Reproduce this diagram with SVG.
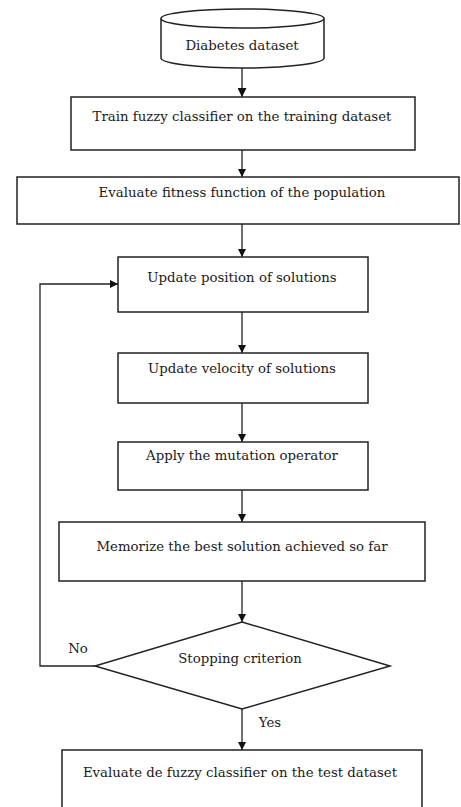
<svg xmlns="http://www.w3.org/2000/svg" width="461" height="807" viewBox="0 0 461 807">
<style>
.box{fill:#fff;stroke:#222;stroke-width:1.5}
.t{font-family:"DejaVu Serif","Liberation Serif",serif;font-size:13.3px;fill:#1a1a1a;text-anchor:middle}
.c{fill:none;stroke:#222;stroke-width:1.3}
</style>
<defs>
<marker id="ah" viewBox="0 0 10 10" refX="10" refY="5" markerWidth="8" markerHeight="8" markerUnits="userSpaceOnUse" orient="auto">
<path d="M0,0 L10,5 L0,10 Z" fill="#111"/>
</marker>
<marker id="ah2" viewBox="0 0 10 10" refX="10" refY="5" markerWidth="9" markerHeight="9" markerUnits="userSpaceOnUse" orient="auto">
<path d="M0,0 L10,5 L0,10 Z" fill="#111"/>
</marker>
</defs>
<rect width="461" height="807" fill="#fff"/>
<g id="connectors">
<line class="c" x1="242" y1="68" x2="242" y2="97" stroke-width="2.2" marker-end="url(#ah2)"/>
<line class="c" x1="242" y1="150" x2="242" y2="177" marker-end="url(#ah)"/>
<line class="c" x1="242" y1="224" x2="242" y2="257" marker-end="url(#ah)"/>
<line class="c" x1="242" y1="312" x2="242" y2="353" marker-end="url(#ah)"/>
<line class="c" x1="242" y1="403" x2="242" y2="442" marker-end="url(#ah)"/>
<line class="c" x1="242" y1="490" x2="242" y2="522" marker-end="url(#ah)"/>
<line class="c" x1="242" y1="581" x2="242" y2="622" marker-end="url(#ah)"/>
<line class="c" x1="242" y1="709" x2="242" y2="750" marker-end="url(#ah)"/>
<polyline class="c" points="95,666 40,666 40,284 118,284" marker-end="url(#ah)"/>
<text class="t" x="78" y="653">No</text>
<text class="t" x="270" y="727">Yes</text>
</g>
<g id="n-dataset">
<path class="box" d="M161,18.5 L161,58 A81.5,10 0 0 0 324,58 L324,18.5"/>
<ellipse class="box" cx="242.5" cy="18.5" rx="81.5" ry="9.5"/>
<text class="t" x="242" y="50">Diabetes dataset</text>
</g>
<g id="n-train">
<rect class="box" x="71" y="97" width="344" height="53"/>
<text class="t" x="242" y="121">Train fuzzy classifier on the training dataset</text>
</g>
<g id="n-fitness">
<rect class="box" x="17" y="177" width="442" height="47"/>
<text class="t" x="242" y="197">Evaluate fitness function of the population</text>
</g>
<g id="n-position">
<rect class="box" x="118" y="257" width="250" height="55"/>
<text class="t" x="242" y="282">Update position of solutions</text>
</g>
<g id="n-velocity">
<rect class="box" x="118" y="353" width="250" height="50"/>
<text class="t" x="242" y="373">Update velocity of solutions</text>
</g>
<g id="n-mutation">
<rect class="box" x="118" y="442" width="250" height="48"/>
<text class="t" x="242" y="460">Apply the mutation operator</text>
</g>
<g id="n-memorize">
<rect class="box" x="59" y="522" width="366" height="59"/>
<text class="t" x="242" y="551">Memorize the best solution achieved so far</text>
</g>
<g id="n-stop">
<polygon class="box" points="242,622 390,666 242,709 95,666"/>
<text class="t" x="240" y="663">Stopping criterion</text>
</g>
<g id="n-evaluate">
<rect class="box" x="62" y="750" width="360" height="70"/>
<text class="t" x="240" y="777">Evaluate de fuzzy classifier on the test dataset</text>
</g>
</svg>
